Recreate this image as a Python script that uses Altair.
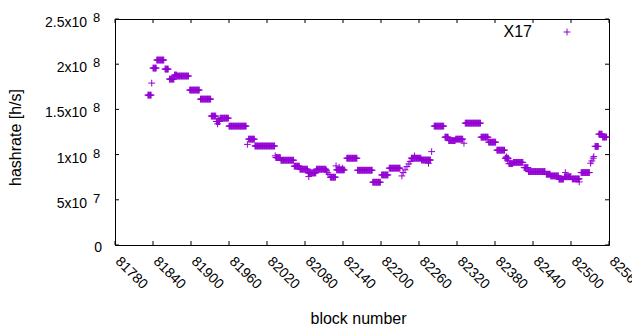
import altair as alt
import pandas as pd

# Runs of consecutive blocks that share the same hashrate (value in units of 1e8 h/s)
run_start = [81832, 81840, 81846, 81859, 81866, 81874, 81878, 81898, 81915, 81932,
             81940, 81946, 81960, 81991, 82001, 82034, 82042, 82063, 82072, 82085,
             82098, 82120, 82130, 82146, 82163, 82187, 82201, 82213, 82248, 82264,
             82284, 82301, 82307, 82318, 82333, 82358, 82370, 82383, 82396, 82402,
             82409, 82426, 82433, 82461, 82468, 82481, 82490, 82502, 82516, 82538,
             82544, 82550]
run_end = [81837, 81845, 81857, 81864, 81873, 81877, 81896, 81913, 81931, 81939,
           81945, 81959, 81987, 82000, 82032, 82041, 82062, 82071, 82084, 82097,
           82113, 82128, 82142, 82162, 82186, 82199, 82211, 82230, 82263, 82278,
           82299, 82306, 82317, 82329, 82357, 82369, 82381, 82395, 82401, 82408,
           82424, 82432, 82459, 82467, 82480, 82488, 82500, 82513, 82529, 82543,
           82549, 82556]
run_value = [1.658, 1.957, 2.046, 1.946, 1.835, 1.880, 1.869, 1.714, 1.614, 1.426,
             1.366, 1.403, 1.315, 1.171, 1.095, 0.967, 0.938, 0.872, 0.8385, 0.7975,
             0.8385, 0.750, 0.831, 0.960, 0.827, 0.6945, 0.775, 0.850, 0.960, 0.940,
             1.315, 1.193, 1.155, 1.171, 1.348, 1.193, 1.1375, 1.049, 0.960, 0.900,
             0.914, 0.856, 0.812, 0.783, 0.764, 0.729, 0.755, 0.731, 0.801, 1.091,
             1.226, 1.194]

# Isolated blocks
single_block = [81838, 81942, 81989, 82033, 82086, 82114, 82116, 82118, 82129, 82134,
                82139, 82233, 82235, 82238, 82241, 82244, 82246, 82253, 82275, 82280,
                82331, 82398, 82400, 82491, 82513, 82531, 82533, 82535, 82536]
single_value = [1.791, 1.340, 1.113, 0.986, 0.757, 0.823, 0.800, 0.780, 0.875, 0.860,
                0.850, 0.764, 0.801, 0.831, 0.867, 0.897, 0.923, 0.985, 0.905, 1.033,
                1.126, 0.975, 0.940, 0.801, 0.698, 0.905, 0.930, 0.960, 0.978]

x_ticks = [81780, 81840, 81900, 81960, 82020, 82080, 82140, 82200, 82260, 82320,
           82380, 82440, 82500, 82560]
y_tick_values = [0, 5e7, 1e8, 1.5e8, 2e8, 2.5e8]
y_mantissa = ["0", "5x10", "1x10", "1.5x10", "2x10", "2.5x10"]
y_exponent = ["", "7", "8", "8", "8", "8"]
series_name = ["X17"]

rows = []
for s, e, v in zip(run_start, run_end, run_value):
    for b in range(s, e + 1):
        rows.append({"block": b, "hashrate": v * 1e8})
for b, v in zip(single_block, single_value):
    rows.append({"block": b, "hashrate": v * 1e8})
df = pd.DataFrame(rows)

df_xt = pd.DataFrame({"block": x_ticks})
df_yt = pd.DataFrame({"hashrate": y_tick_values, "m": y_mantissa, "e": y_exponent})
df_leg = pd.DataFrame({"label": series_name})

W, H = 494, 226
COLOR = "#9400D3"
PLUS = "M-1,0L1,0M0,-1L0,1"
FONT = "Liberation Sans"

xs = alt.Scale(domain=[81780, 82560], nice=False, zero=False)
ys = alt.Scale(domain=[0, 2.5e8], nice=False, zero=True)

x_axis = alt.Axis(values=x_ticks, format="d", labelAngle=45, labelAlign="left",
                  labelBaseline="middle", labelPadding=14, labelOffset=2,
                  ticks=False, domain=False, grid=False, labelFlush=False,
                  labelOverlap=False, labelFont=FONT, labelFontSize=14,
                  labelColor="black", title="block number", titleFont=FONT,
                  titleFontSize=16, titleFontWeight="normal", titleColor="black",
                  titleX=243, titleY=78, titleAlign="center",
                  titleBaseline="alphabetic")
y_axis = alt.Axis(labels=False, ticks=False, domain=False, grid=False,
                  title="hashrate [h/s]", titleFont=FONT, titleFontSize=16,
                  titleFontWeight="normal", titleColor="black", titleX=-95,
                  titleY=118, titleAngle=270, titleAlign="center",
                  titleBaseline="alphabetic")

X = alt.X("block:Q", scale=xs, axis=x_axis, title="block number")
Y = alt.Y("hashrate:Q", scale=ys, axis=y_axis, title="hashrate [h/s]")

points = alt.Chart(df).mark_point(
    shape=PLUS, filled=False, size=46, strokeWidth=1, color=COLOR, opacity=1
).encode(x=X, y=Y)

tick_b = alt.Chart(df_xt).mark_rule(color="black", strokeWidth=1).encode(
    x=X, y=alt.value(H), y2=alt.value(H - 4))
tick_t = alt.Chart(df_xt).mark_rule(color="black", strokeWidth=1).encode(
    x=X, y=alt.value(0), y2=alt.value(4))
tick_l = alt.Chart(df_yt).mark_rule(color="black", strokeWidth=1).encode(
    y=Y, x=alt.value(0), x2=alt.value(4))
tick_r = alt.Chart(df_yt).mark_rule(color="black", strokeWidth=1).encode(
    y=Y, x=alt.value(W), x2=alt.value(W - 4))

mant = alt.Chart(df_yt).transform_filter("datum.hashrate > 0").mark_text(
    align="right", baseline="middle", dy=4, font=FONT, fontSize=14, color="black"
).encode(y=Y, x=alt.value(-28), text="m:N")
expo = alt.Chart(df_yt).transform_filter("datum.hashrate > 0").mark_text(
    align="left", baseline="middle", dy=-1, font=FONT, fontSize=13, color="black"
).encode(y=Y, x=alt.value(-22), text="e:N")
zero = alt.Chart(df_yt).transform_filter("datum.hashrate == 0").mark_text(
    align="right", baseline="middle", dy=3, font=FONT, fontSize=14, color="black"
).encode(y=Y, x=alt.value(-13), text="m:N")

leg_text = alt.Chart(df_leg).mark_text(
    align="right", baseline="middle", font=FONT, fontSize=16, color="black"
).encode(x=alt.value(417), y=alt.value(13), text="label:N")
leg_pt = alt.Chart(df_leg).mark_point(
    shape=PLUS, filled=False, size=46, strokeWidth=1, color=COLOR, opacity=1
).encode(x=alt.value(452), y=alt.value(13))

chart = alt.layer(
    points, tick_b, tick_t, tick_l, tick_r, mant, expo, zero, leg_text, leg_pt
).properties(
    width=W, height=H,
    autosize=alt.AutoSizeParams(type="none"),
    padding={"left": 107, "top": 11, "right": 23, "bottom": 80},
    background="white",
).configure(font=FONT).configure_view(stroke="black", strokeWidth=1)

chart.save("out.html", embed_options={"renderer": "svg", "actions": False})
